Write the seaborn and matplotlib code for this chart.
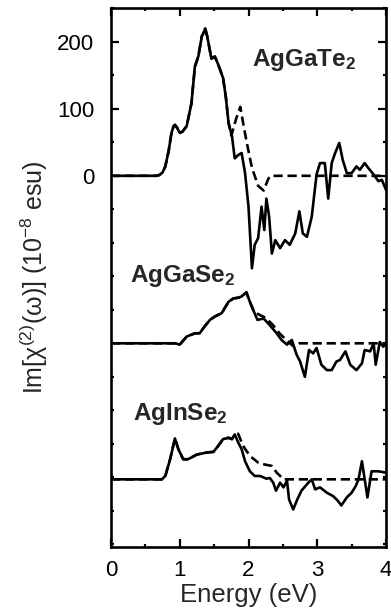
import numpy as np
import pandas as pd
import matplotlib
matplotlib.use("Agg")
import matplotlib.pyplot as plt
import seaborn as sns
from matplotlib.ticker import MultipleLocator

# ---------------- data ----------------
offsets = {"AgGaTe2": 0, "AgGaSe2": -250, "AgInSe2": -453}

tgte_E = [0, 0.66, 0.70, 0.75, 0.79, 0.84, 0.88, 0.91, 0.93, 0.96, 1.0, 1.04, 1.10,
          1.17, 1.22, 1.27, 1.32, 1.35, 1.37, 1.40, 1.46, 1.51, 1.56, 1.63, 1.67,
          1.71, 1.76, 1.80, 1.85, 1.90, 1.95, 2.0, 2.05, 2.09, 2.14, 2.19, 2.23,
          2.26, 2.30, 2.34, 2.39, 2.46, 2.53, 2.60, 2.68, 2.74, 2.79, 2.85, 2.92,
          2.99, 3.04, 3.11, 3.16, 3.21, 3.26, 3.32, 3.37, 3.43, 3.50, 3.57, 3.62,
          3.69, 3.74, 3.82, 3.89, 3.94, 4.0]
tgte_V = [0, 0, 1, 5, 14, 38, 64, 74, 76, 72, 64, 66, 74,
          108, 163, 178, 208, 214, 220, 208, 175, 178, 166, 146, 118,
          79, 59, 26, 31, 34, 4, -46, -138, -103, -93, -46, -81,
          -34, -61, -116, -96, -108, -96, -103, -86, -53, -86, -91, -61,
          2, 19, 19, -34, 19, 34, 49, 24, 4, 4, 14, 9,
          19, 12, 2, -8, -6, -21]
tgte_dash_E = [1.75, 1.82, 1.88, 1.92, 1.97, 2.05, 2.14, 2.22, 2.29, 2.32, 4.0]
tgte_dash_V = [60, 85, 103, 80, 52, 12, -15, -22, -4, 0, 0]
tgte_split = 1.71

sgse_E = [0, 0.93, 1.0, 1.05, 1.10, 1.22, 1.29, 1.36, 1.44, 1.51, 1.61, 1.71,
          1.78, 1.85, 1.90, 1.97, 2.02, 2.08, 2.13, 2.22, 2.31, 2.41, 2.48,
          2.56, 2.63, 2.70, 2.75, 2.82, 2.88, 2.94, 2.99, 3.06, 3.14, 3.21,
          3.28, 3.33, 3.41, 3.48, 3.57, 3.65, 3.69, 3.77, 3.82, 3.85, 3.91,
          3.96, 4.0]
sgse_V = [0, 0, -2, 4, 10, 15, 15, 25, 35, 40, 45, 62,
          67, 68, 70, 76, 62, 47, 35, 37, 27, 15, 5,
          -2, 5, -17, -27, -50, -10, -15, -7, -32, -40, -40,
          -27, -25, -12, -32, -40, -30, -10, -12, 0, -32, 2,
          -5, 0]
sgse_dash_E = [2.17, 2.25, 2.35, 2.45, 2.56, 2.66, 2.74, 4.0]
sgse_dash_V = [42, 38, 28, 15, 4, -5, 0, 0]
sgse_split = 2.08

ains_E = [0, 0.74, 0.79, 0.86, 0.93, 0.98, 1.05, 1.12, 1.25, 1.39, 1.49, 1.56,
          1.63, 1.71, 1.76, 1.80, 1.85, 1.90, 1.95, 2.02, 2.09, 2.17, 2.26,
          2.31, 2.36, 2.40, 2.46, 2.51, 2.56, 2.59, 2.65, 2.71, 2.77, 2.87,
          2.92, 2.97, 3.04, 3.14, 3.23, 3.30, 3.35, 3.43, 3.50, 3.56, 3.60,
          3.65, 3.69, 3.73, 3.79, 3.89, 4.0]
ains_V = [0, 0, 5, 30, 61, 45, 30, 30, 37, 40, 41, 50,
          60, 62, 60, 67, 55, 45, 27, 12, 5, 5, 1,
          2, -5, -17, -5, -12, -2, -30, -45, -30, -17, -5,
          0, -15, -12, -20, -25, -32, -39, -27, -20, -10, 0,
          27, 0, -27, 12, 12, 10]
ains_dash_E = [1.85, 1.92, 2.02, 2.14, 2.24, 2.34, 2.41, 2.51, 4.0]
ains_dash_V = [68, 50, 35, 25, 22, 20, 10, 0, 0]
ains_split = 1.80

labels = {"AgGaTe2": "AgGaTe$_\\mathbf{2}$",
          "AgGaSe2": "AgGaSe$_\\mathbf{2}$",
          "AgInSe2": "AgInSe$_\\mathbf{2}$"}
label_pos = {"AgGaTe2": (2.05, 164), "AgGaSe2": (0.28, -159), "AgInSe2": (0.32, -365)}

x_ticks = [0, 1, 2, 3, 4]
y_ticks = [0, 100, 200]

# ---------------- style ----------------
sns.set_style("ticks")
plt.rcParams['font.family'] = ['Liberation Sans', 'DejaVu Sans']
plt.rcParams['mathtext.fontset'] = 'custom'
plt.rcParams['mathtext.rm'] = 'Liberation Sans'
plt.rcParams['mathtext.it'] = 'Liberation Sans:italic'
plt.rcParams['mathtext.bf'] = 'Liberation Sans:bold'
plt.rcParams['lines.dashed_pattern'] = [3.5, 1.8]

fig = plt.figure(figsize=(3.91, 6.12), dpi=100)
ax = fig.add_axes([111 / 391, 1 - 547 / 612, 275 / 391, (547 - 8.3) / 612])

series = [
    ("AgGaTe2", tgte_E, tgte_V, tgte_dash_E, tgte_dash_V, tgte_split),
    ("AgGaSe2", sgse_E, sgse_V, sgse_dash_E, sgse_dash_V, sgse_split),
    ("AgInSe2", ains_E, ains_V, ains_dash_E, ains_dash_V, ains_split),
]

for name, E, V, dE, dV, split in series:
    off = offsets[name]
    solid = pd.DataFrame({"E": E, "V": np.array(V, dtype=float) + off})
    shared = solid[solid["E"] <= split]
    dashed = pd.concat([shared,
                        pd.DataFrame({"E": dE, "V": np.array(dV, dtype=float) + off})],
                       ignore_index=True)
    sns.lineplot(data=dashed, x="E", y="V", ax=ax, color="black", lw=1.9,
                 linestyle="--", estimator=None, sort=False)
    sns.lineplot(data=solid, x="E", y="V", ax=ax, color="black", lw=1.9,
                 estimator=None, sort=False)
    tx, ty = label_pos[name]
    ax.text(tx, ty, labels[name], fontsize=17.5, fontweight="bold",
            va="baseline", ha="left")

ax.set_xlim(0, 4)
ax.set_ylim(-554, 250)
ax.set_xticks(x_ticks)
ax.set_xticklabels([str(t) for t in x_ticks])
ax.set_yticks(y_ticks)
ax.set_yticklabels([str(t) for t in y_ticks])
ax.xaxis.set_minor_locator(MultipleLocator(0.5))
ax.yaxis.set_minor_locator(MultipleLocator(50))
ax.tick_params(which="both", direction="in", top=True, right=True, width=1.6,
               colors="black")
ax.tick_params(which="major", length=5.5, labelsize=16)
ax.tick_params(which="minor", length=2.5)
ax.tick_params(axis="x", which="major", pad=9)
ax.tick_params(axis="y", which="major", pad=12)
for s in ax.spines.values():
    s.set_linewidth(1.9)
    s.set_color("black")

ax.set_xlabel("Energy (eV)", fontsize=18.5, labelpad=2)
ax.set_ylabel("Im[χ$^{(2)}$(ω)] (10$^{-8}$ esu)", fontsize=18)
ax.yaxis.set_label_coords(-0.222, 0.5)

fig.savefig("out.png", dpi=100)
